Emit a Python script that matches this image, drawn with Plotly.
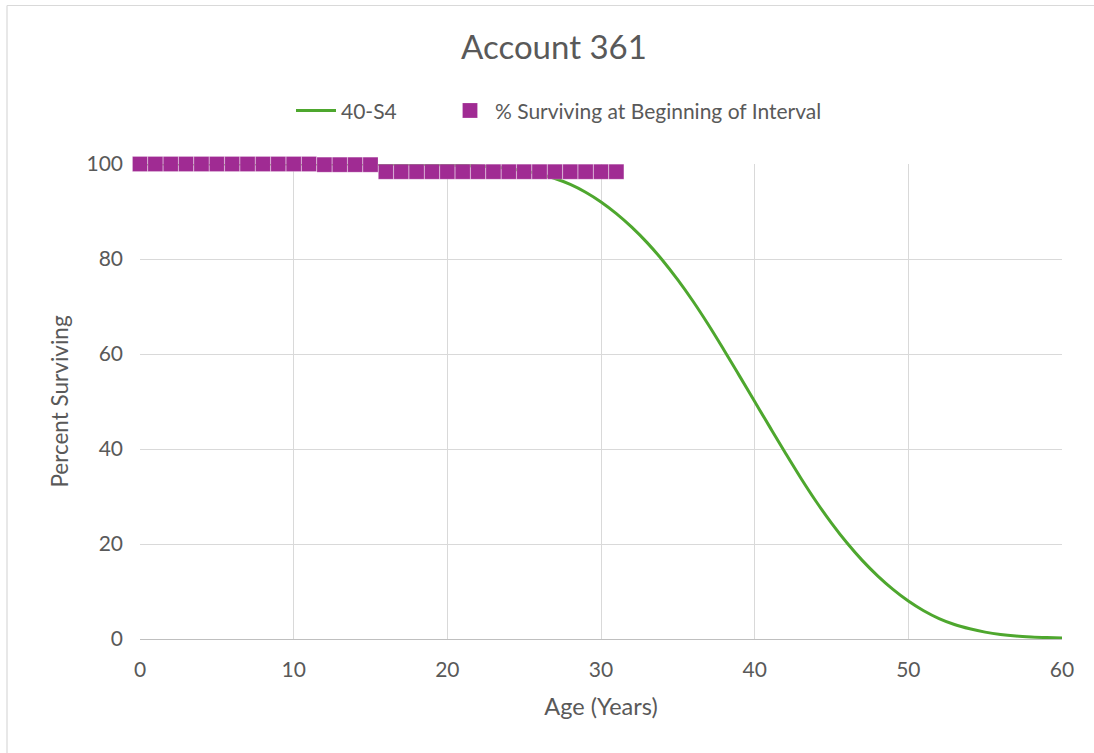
import plotly.graph_objects as go

# Iowa 40-S4 survivor curve (percent surviving by age)
curve_age = list(range(0, 61))
curve_pct = [
    100, 100, 100, 100, 100, 100, 100, 100, 100, 100,
    100, 100, 99.99, 99.99, 99.98, 99.97, 99.96, 99.94, 99.91, 99.86,
    99.8, 99.71, 99.58, 99.38, 99.05, 98.55, 97.85, 96.95, 95.7, 94.05,
    92.0, 89.55, 86.7, 83.45, 79.75, 75.6, 71.05, 66.1, 60.85, 55.45,
    50.0, 44.55, 39.15, 33.9, 28.95, 24.4, 20.25, 16.55, 13.3, 10.45,
    8.0, 5.95, 4.3, 3.05, 2.15, 1.45, 0.95, 0.62, 0.42, 0.29,
    0.2,
]

# Observed life table: % surviving at beginning of each age interval
obs_age = list(range(0, 32))
obs_pct = [
    100, 100, 100, 100, 100, 100, 100, 100, 100, 100, 100, 100,
    99.86, 99.86, 99.86, 99.86,
    98.38, 98.38, 98.38, 98.38, 98.38, 98.38, 98.38, 98.38,
    98.38, 98.38, 98.38, 98.38, 98.38, 98.38, 98.38, 98.38,
]

x_ticks = [0, 10, 20, 30, 40, 50, 60]
y_ticks = [0, 20, 40, 60, 80, 100]

TEXT = "#595959"
GRID = "#D9D9D9"
FONT = "Lato"

fig = go.Figure()

fig.add_trace(go.Scatter(
    x=curve_age, y=curve_pct, name="40-S4", mode="lines",
    line=dict(color="#4EA72E", width=3, shape="spline", smoothing=1.0),
    legend="legend",
))

fig.add_trace(go.Scatter(
    x=obs_age, y=obs_pct, name="% Surviving at Beginning of Interval",
    mode="markers", cliponaxis=False,
    marker=dict(symbol="square", size=15, color="#A02B93",
                line=dict(color="rgba(255,255,255,0.35)", width=0.6)),
    legend="legend2",
))

legend_common = dict(orientation="h", xanchor="left", y=1.112, yanchor="middle",
                     font=dict(size=21, color=TEXT), itemwidth=40,
                     bgcolor="rgba(0,0,0,0)")

fig.update_layout(
    width=1094, height=753,
    margin=dict(l=140, r=32, t=164, b=114),
    paper_bgcolor="white", plot_bgcolor="white",
    font=dict(family=FONT, color=TEXT, size=21),
    title=dict(text="Account 361", x=554 / 1094, xanchor="center",
               y=1 - 47 / 753, yanchor="middle",
               font=dict(size=33, color=TEXT, family=FONT)),
    legend=dict(x=(291 - 140) / 922, **legend_common),
    legend2=dict(x=(445 - 140) / 922, **legend_common),
    showlegend=True,
)

fig.update_xaxes(
    range=[0, 60], tickvals=x_ticks, ticks="", ticklabelstandoff=12,
    showgrid=True, gridcolor=GRID, gridwidth=1, zeroline=False,
    showline=True, linecolor="#BFBFBF", linewidth=1,
    tickfont=dict(size=21, color=TEXT),
    title=dict(text="Age (Years)", font=dict(size=23.5, color=TEXT), standoff=18),
)
fig.update_yaxes(
    range=[0, 100], tickvals=y_ticks, ticks="", ticklabelstandoff=16,
    showgrid=True, gridcolor=GRID, gridwidth=1, zeroline=False,
    showline=False,
    tickfont=dict(size=21, color=TEXT),
    title=dict(text="Percent Surviving", font=dict(size=22.5, color=TEXT), standoff=11),
)

# outer chart frame: top and left edges
frame_top = (639 - 5.5) / 475
frame_left = (7 - 140) / 922
fig.add_shape(type="line", xref="paper", yref="paper",
              x0=frame_left, x1=(1094 - 140) / 922, y0=frame_top, y1=frame_top,
              line=dict(color="#D9D9D9", width=1.2), layer="below")
fig.add_shape(type="line", xref="paper", yref="paper",
              x0=frame_left, x1=frame_left, y0=frame_top, y1=(639 - 753) / 475,
              line=dict(color="#D9D9D9", width=1.2), layer="below")

fig.write_html("out.html")
